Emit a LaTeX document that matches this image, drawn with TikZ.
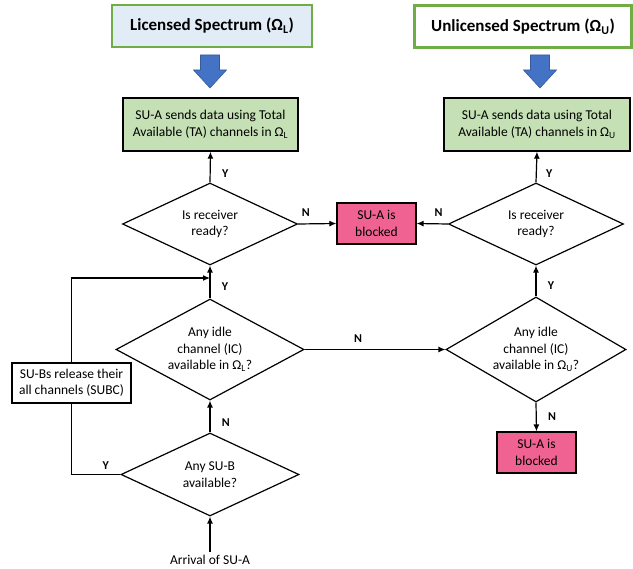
\documentclass[tikz,border=0pt]{standalone}
\usepackage{fontspec}
\setmainfont{Carlito}
\usetikzlibrary{shapes.geometric,arrows.meta}

\definecolor{sendgreen}{RGB}{197,224,180}
\definecolor{framegreen}{RGB}{112,173,71}
\definecolor{blockpink}{RGB}{240,98,146}
\definecolor{downblue}{RGB}{68,114,196}
\definecolor{headblue}{RGB}{226,236,247}

\begin{document}
\begin{tikzpicture}[x=1pt,y=-1pt,
    txt/.style={font=\fontsize{13.5}{16.5}\selectfont, align=center},
    header/.style={draw=framegreen, line width=2.6pt, font=\fontsize{17}{20}\selectfont\bfseries, minimum height=42pt},
    sendbox/.style={txt, draw=black, line width=1.4pt, fill=sendgreen, minimum height=53pt, inner sep=2pt},
    blockbox/.style={txt, draw=black, line width=1.2pt, fill=blockpink, minimum width=79pt, minimum height=41pt, inner sep=2pt},
    question/.style={txt, diamond, draw=black, line width=1.2pt, inner sep=0pt, aspect=1.8},
    flow/.style={line width=1.2pt, -{Latex[length=7pt,width=6pt]}},
    yn/.style={font=\fontsize{12}{14}\selectfont\bfseries},
    bluedown/.pic={\filldraw[fill=downblue, draw=downblue!80!black, line width=0.6pt]
        (-9.5,0) -- (9.5,0) -- (9.5,15) -- (16.5,15) -- (0,33) -- (-16.5,15) -- (-9.5,15) -- cycle;}]
\useasboundingbox (0,0) rectangle (633,569);

% Cabeceras
\node [header, fill=headblue, minimum width=200pt] (specL) at (212,26) {Licensed Spectrum (Ω\textsubscript{L})};
\node [header, fill=white, minimum width=217pt] (specU) at (523,26.5) {Unlicensed Spectrum (Ω\textsubscript{U})};
\pic at (210,55) {bluedown};
\pic at (540,55) {bluedown};

% Cajas de envio
\node [sendbox, minimum width=175pt] (sendL) at (210.5,124.5) {SU-A sends data using Total\\Available (TA) channels in Ω\textsubscript{L}};
\node [sendbox, minimum width=186pt] (sendU) at (537,124.5) {SU-A sends data using Total\\Available (TA) channels in Ω\textsubscript{U}};

% Preguntas
\node [question, minimum width=175pt, minimum height=82pt] (recvL) at (210,224) {Is receiver\\ready?};
\node [question, minimum width=175pt, minimum height=82pt] (recvU) at (536,224) {Is receiver\\ready?};
\node [question, minimum width=188pt, minimum height=101pt] (idleL) at (210,349.5) {Any idle\\channel (IC)\\available in Ω\textsubscript{L}?};
\node [question, minimum width=180pt, minimum height=105pt] (idleU) at (536,349.5) {Any idle\\channel (IC)\\available in Ω\textsubscript{U}?};
\node [question, minimum width=178pt, minimum height=83pt] (anyB) at (210,474.5) {Any SU-B\\available?};

% Bloqueos y liberacion
\node [blockbox] (blockM) at (376.5,223.5) {SU-A is\\blocked};
\node [blockbox] (blockU) at (536.5,452.5) {SU-A is\\blocked};
\node [txt, draw=black, line width=1.4pt, fill=white, minimum width=119pt, minimum height=40pt, inner sep=2pt] (release) at (71.5,383) {SU-Bs release their\\all channels (SUBC)};
\node [txt] (arrival) at (210,560) {Arrival of SU-A};
\coordinate (join) at (210,278);

% Conexiones
\draw [flow] (arrival) -- (anyB.south);
\draw [flow] (anyB.north) -- node [yn, pos=0.3, right=8pt] {N} (idleL.south);
\draw [line width=1.2pt] (anyB.west) -| node [yn, pos=0.15, above=1pt] {Y} (release.south);
\draw [flow] (release.north) |- (join);
\draw [flow] (idleL.north) -- node [yn, pos=0.35, right=8pt] {Y} (recvL.south);
\draw [flow] (recvL.north) -- node [yn, pos=0.3, right=8pt] {Y} (sendL.south);
\draw [flow] (recvL.east) -- node [yn, pos=0.2, above=3pt] {N} (blockM.west);
\draw [flow] (recvU.west) -- node [yn, pos=0.3, above=3pt] {N} (blockM.east);
\draw [flow] (idleL.east) -- node [yn, pos=0.38, above=3pt] {N} (idleU.west);
\draw [flow] (idleU.north) -- node [yn, pos=0.35, right=8pt] {Y} (recvU.south);
\draw [flow] (recvU.north) -- node [yn, pos=0.3, right=6pt] {Y} (sendU.south);
\draw [flow] (idleU.south) -- node [yn, pos=0.5, right=8pt] {N} (blockU.north);
\end{tikzpicture}
\end{document}
